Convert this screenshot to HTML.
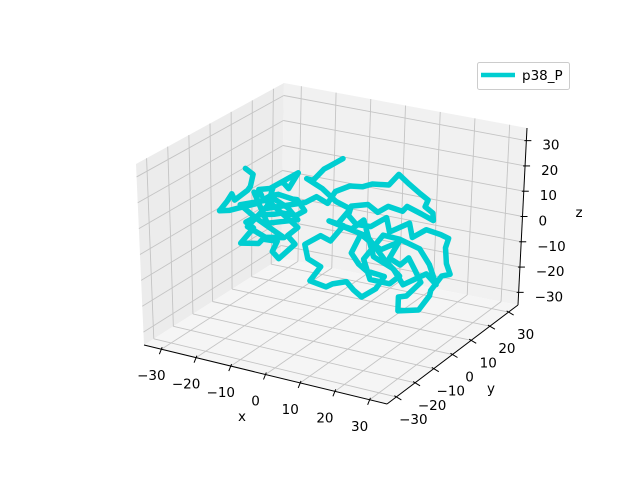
<!DOCTYPE html>
<html><head><meta charset="utf-8"><style>
body{margin:0;background:#fff}
svg{display:block;font-family:"DejaVu Sans","Liberation Sans",sans-serif}
</style></head><body>
<svg id="chart" width="640" height="480" viewBox="0 0 640 480" xmlns="http://www.w3.org/2000/svg">
<g id="panes"></g>
<g id="grid"></g>
<g id="axes"></g>
<g id="series"></g>
<text x="242" y="421" font-size="13.5" text-anchor="middle">x</text>
<text x="491" y="393" font-size="13.5" text-anchor="middle">y</text>
<text x="579" y="217" font-size="13.5" text-anchor="middle">z</text>
<g>
<rect x="477.5" y="62.5" width="92" height="27" rx="2" fill="#fff" fill-opacity="0.8" stroke="#ccc"/>
<line x1="481" y1="75" x2="515" y2="75" stroke="#00CED1" stroke-width="4.5"/>
<text x="522" y="80" font-size="13.5">p38_P</text>
</g>
</svg>
<script>
const xs=[
-25,-24,-23,-25,-27,-29,-31,-32,-31,-27,
-22,-19,-15,-12,-9,-8,-11,-14,-18,-21,
-25,-24,-26,-22,-19,-16,-18,-15,-12,-13,
-10,-20,-26,-23,-17,-14,-20,-24,-18,-13,
-10,-20,-22,-21,-20,-18,-15,-12,-11,-17,
-19,-9,-4,-2,2,5,8,12,15,19,
22,24,28,26,30,29,25,22,19,16,
13,9,6,4,8,11,15,17,21,23,
27,30,34,32,34,34,31,29,27,25,
19,18,22,25,25,22,19,17,18,14,
11,7,6,7,11,15,12,9,5,4,
0,-3,-6,-4,-6,-8,-4,0,2,-1,
10,14,20,16,12,9,14,20,24,28,
30,26,21,17,13,9,5,2,4,1,
-3,-8,-5,-3,-1,3];
const zs=[
20,17,14,11,8,9,5,2,1,4,
7,10,13,11,13,8,5,6,3,3,
-1,-4,-9,-9,-5,-6,-11,-12,-7,-3,
1,8,6,1,0,-4,-6,-2,9,8,
4,-1,12,10,14,14,17,16,21,15,
6,10,15,12,19,21,21,24,23,29,
26,22,22,18,18,14,15,18,14,16,
13,14,14,9,8,7,11,7,10,6,
10,8,9,4,0,-5,-7,-12,-16,-21,
-23,-19,-16,-11,-5,-2,-6,-3,2,-1,
1,2,-4,-9,-9,-11,-17,-20,-20,-16,
-18,-21,-18,-13,-9,-5,-1,-1,4,6,
3,-6,-9,-14,-12,-6,4,5,1,-3,
-10,-8,-12,-8,-3,9,4,6,11,14,
18,20,21,25,27,31];
const ys=[
0,2,-1,1,-2,0,1,-1,2,0,
0,2,-1,1,-2,0,1,-1,2,0,
0,2,-1,1,-2,0,1,-1,2,0,
0,2,-1,1,-2,0,1,-1,2,0,
0,2,-1,1,-2,0,1,-1,2,0,
0,2,-1,1,-2,0,1,-1,2,0,
0,2,-1,1,-2,0,1,-1,2,0,
0,2,-1,1,-2,0,1,-1,2,0,
0,2,-1,1,-2,0,1,-1,2,0,
0,2,-1,1,-2,0,1,-1,2,0,
0,2,-1,1,-2,0,1,-1,2,0,
0,2,-1,1,-2,0,1,-1,2,0,
0,2,-1,1,-2,0,1,-1,2,0,
0,2,-1,1,-2,0,1,-1,2,0,
0,1,-1,1,0,0];
const ticks=[-30,-20,-10,0,10,20,30];
const tickLabels=["\u221230","\u221220","\u221210","0","10","20","30"];
const L=35;
const C={"000":[144,345],"100":[387,404],"110":[518,305],"010":[281,258],"001":[136,164],"101":[383,210],"111":[527,128],"011":[284,83]};
function proj(x,y,z){
  const u=(x+L)/(2*L),v=(y+L)/(2*L),w=(z+L)/(2*L);
  let px=0,py=0;
  for(const a of [0,1])for(const b of [0,1])for(const c of [0,1]){
    const k=(a?u:1-u)*(b?v:1-v)*(c?w:1-w);const p=C[""+a+b+c];px+=k*p[0];py+=k*p[1];}
  return [px,py];
}
const NS="http://www.w3.org/2000/svg";
function mk(tag,attrs,parent){const e=document.createElementNS(NS,tag);for(const k in attrs)e.setAttribute(k,attrs[k]);parent.appendChild(e);return e;}
function poly(pts){return pts.map(p=>p[0].toFixed(1)+","+p[1].toFixed(1)).join(" ");}
const panes=document.getElementById("panes");
let e;
e=mk("polygon",{points:poly([proj(-L,-L,-L),proj(-L,L,-L),proj(-L,L,L),proj(-L,-L,L)]),fill:"#ececec"},panes);


e=mk("polygon",{points:poly([proj(-L,L,-L),proj(L,L,-L),proj(L,L,L),proj(-L,L,L)]),fill:"#f1f1f1"},panes);


e=mk("polygon",{points:poly([proj(-L,-L,-L),proj(L,-L,-L),proj(L,L,-L),proj(-L,L,-L)]),fill:"#f5f5f5"},panes);


const grid=document.getElementById("grid");
function gl(a,b){const p=proj(...a),q=proj(...b);return mk("line",{x1:p[0],y1:p[1],x2:q[0],y2:q[1],stroke:"#c4c4c4","stroke-width":0.9},grid);}
for(const t of ticks){
  e=gl([t,-L,-L],[t,L,-L]);
  e=gl([-L,t,-L],[L,t,-L]);
  e=gl([-L,t,-L],[-L,t,L]);
  e=gl([-L,-L,t],[-L,L,t]);
  e=gl([t,L,-L],[t,L,L]);
  e=gl([-L,L,t],[L,L,t]);
}
const axes=document.getElementById("axes");
function al(a,b){const p=proj(...a),q=proj(...b);return mk("line",{x1:p[0],y1:p[1],x2:q[0],y2:q[1],stroke:"#000","stroke-width":1},axes);}
e=al([-L,-L,-L],[L,-L,-L]);
e=al([L,-L,-L],[L,L,-L]);
e=al([L,L,-L],[L,L,L]);
function tick(p,dx,dy){return mk("line",{x1:p[0]-dx*0.4,y1:p[1]-dy*0.4,x2:p[0]+dx,y2:p[1]+dy,stroke:"#000","stroke-width":1},axes);}
function lab(p,anchor){return mk("text",{x:p[0],y:p[1],"font-size":13.5,"text-anchor":anchor},axes);}
ticks.forEach((t,i)=>{
  let p=proj(t,-L,-L);
  e=tick(p,-2,5);
  e=lab([p[0]-10,p[1]+31],"middle");e.textContent=tickLabels[i];
  p=proj(L,t,-L);
  e=tick(p,5,3);
  e=lab([p[0]+17,p[1]+27],"middle");e.textContent=tickLabels[i];
  p=proj(L,L,t);
  e=tick(p,5,0);
  e=lab([p[0]+16,p[1]+9],"start");e.textContent=tickLabels[i];
});
const series=document.getElementById("series");
const n=Math.min(xs.length,ys.length,zs.length);
const pts=[];
for(let i=0;i<n;i++)pts.push(proj(xs[i],ys[i],zs[i]));
e=mk("polyline",{points:poly(pts),fill:"none",stroke:"#00CED1","stroke-width":5.5,"stroke-linejoin":"round","stroke-linecap":"round"},series);


</script>
</body></html>
